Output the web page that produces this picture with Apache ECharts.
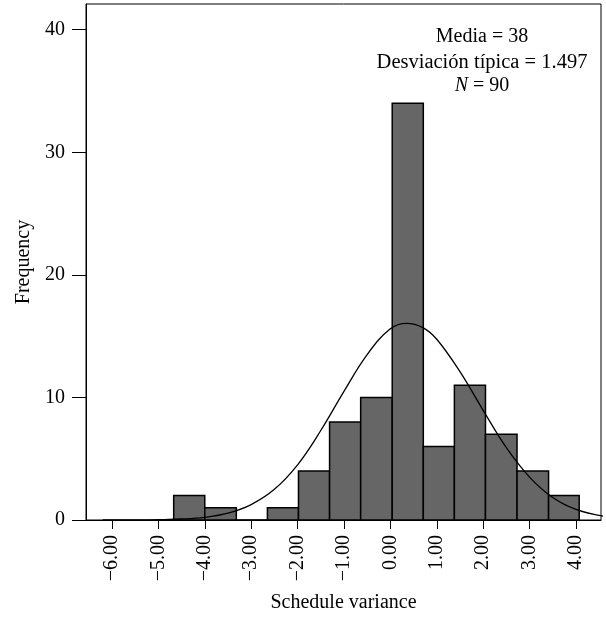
<!DOCTYPE html>
<html>
<head>
<meta charset="utf-8">
<script src="https://cdn.jsdelivr.net/npm/echarts@6/dist/echarts.min.js"></script>
<style>
  html, body { margin: 0; padding: 0; background: #fff; }
  #chart { width: 606px; height: 618px; }
</style>
</head>
<body>
<div id="chart"></div>
<script>
// histogram bins: left edge, right edge, count
const binStarts = [-4.67, -4.00, -3.32, -2.65, -1.98, -1.31, -0.64, 0.04, 0.71, 1.38, 2.05, 2.73, 3.41];
const binEnds   = [-4.00, -3.32, -2.65, -1.98, -1.31, -0.64, 0.04, 0.71, 1.38, 2.05, 2.73, 3.41, 4.07];
const binCounts = [2, 1, 0, 1, 4, 8, 10, 34, 6, 11, 7, 4, 2];

// fitted normal curve
const curveX = [-6.2, -5.5, -5.0, -4.5, -4.0, -3.5, -3.0, -2.5, -2.0, -1.5, -1.0, -0.5, 0.0, 0.35, 0.7, 1.0, 1.5, 2.0, 2.5, 3.0, 3.5, 4.0, 4.6];
const curveY = [0.0, 0.01, 0.03, 0.08, 0.22, 0.56, 1.26, 2.5, 4.5, 7.3, 10.5, 13.5, 15.6, 16.05, 15.7, 14.75, 12.1, 8.95, 5.9, 3.5, 1.83, 0.86, 0.3];

const xTicks = [-6, -5, -4, -3, -2, -1, 0, 1, 2, 3, 4];
const yTicks = [0, 10, 20, 30, 40];

const statsLines = ['Media = 38', 'Desviación típica = 1.497', '= 90'];

const font = '"Liberation Serif", "DejaVu Serif", serif';

const chart = echarts.init(document.getElementById('chart'));

const bins = binStarts.map((s, i) => [s, binEnds[i], binCounts[i]]);
const curve = curveX.map((x, i) => [x, curveY[i]]);

const fmtX = v => (v < 0 ? '\u2212' + Math.abs(v).toFixed(2) : v.toFixed(2));

const option = {
  animation: false,
  backgroundColor: '#fff',
  grid: {
    left: 86,
    right: 5,
    top: 4,
    bottom: 98,
    outerBoundsMode: 'none',
    containLabel: false,
    show: true,
    borderColor: '#000',
    borderWidth: 1
  },
  xAxis: {
    type: 'value',
    min: -6.56,
    max: 4.54,
    name: 'Schedule variance',
    nameLocation: 'middle',
    nameGap: 73,
    nameTextStyle: { fontFamily: font, fontSize: 20, color: '#000', verticalAlign: 'top' },
    axisLine: { show: true, onZero: false, lineStyle: { color: '#000', width: 1 } },
    axisTick: { show: true, length: 9, customValues: xTicks, lineStyle: { color: '#000', width: 1 } },
    axisLabel: {
      customValues: xTicks,
      rotate: 90,
      margin: 15,
      formatter: fmtX,
      fontFamily: font,
      fontSize: 20,
      color: '#000'
    },
    splitLine: { show: false }
  },
  yAxis: {
    type: 'value',
    min: 0,
    max: 42.1,
    name: 'Frequency',
    nameLocation: 'middle',
    nameGap: 51,
    nameTextStyle: { fontFamily: font, fontSize: 20, color: '#000' },
    axisLine: { show: true, onZero: false, lineStyle: { color: '#000', width: 1 } },
    axisTick: { show: true, length: 14, customValues: yTicks, lineStyle: { color: '#000', width: 1 } },
    axisLabel: {
      customValues: yTicks,
      margin: 21,
      fontFamily: font,
      fontSize: 20,
      color: '#000'
    },
    splitLine: { show: false }
  },
  series: [
    {
      type: 'custom',
      data: bins,
      encode: { x: [0, 1], y: 2 },
      renderItem: function (params, api) {
        const p0 = api.coord([api.value(0), api.value(2)]);
        const p1 = api.coord([api.value(1), 0]);
        return {
          type: 'rect',
          shape: { x: p0[0], y: p0[1], width: p1[0] - p0[0], height: p1[1] - p0[1] },
          style: { fill: '#666666', stroke: '#000', lineWidth: 1.5 }
        };
      }
    },
    {
      type: 'line',
      data: curve,
      smooth: 0.4,
      showSymbol: false,
      clip: true,
      lineStyle: { color: '#000', width: 1.3 },
      z: 5
    }
  ],
  graphic: [
    {
      type: 'text',
      style: {
        text: statsLines[0],
        x: 482, y: 37,
        align: 'center', verticalAlign: 'middle',
        font: '20px ' + font, fill: '#000'
      }
    },
    {
      type: 'text',
      style: {
        text: statsLines[1],
        x: 482, y: 63,
        align: 'center', verticalAlign: 'middle',
        font: '20.5px ' + font, fill: '#000'
      }
    },
    {
      type: 'text',
      style: {
        text: '{i|N} ' + statsLines[2],
        x: 482, y: 86,
        align: 'center', verticalAlign: 'middle',
        font: '20px ' + font, fill: '#000',
        rich: {
          i: { fontStyle: 'italic', fontFamily: font, fontSize: 20, fill: '#000' }
        }
      }
    }
  ]
};

chart.setOption(option);
</script>
</body>
</html>
